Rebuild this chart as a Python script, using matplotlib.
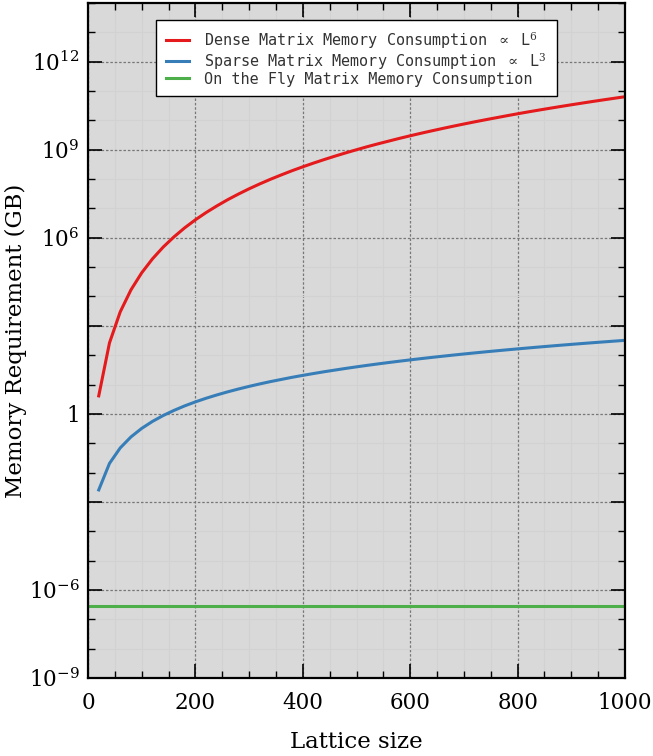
import numpy as np
import matplotlib
matplotlib.use("Agg")
import matplotlib.pyplot as plt
from matplotlib.ticker import LogLocator, MultipleLocator, FuncFormatter, NullFormatter

# lattice sizes and memory values (GB)
lattice = [20, 40, 60, 80, 100, 120, 140, 160, 180, 200,
           220, 240, 260, 280, 300, 320, 340, 360, 380, 400,
           420, 440, 460, 480, 500, 520, 540, 560, 580, 600,
           620, 640, 660, 680, 700, 720, 740, 760, 780, 800,
           820, 840, 860, 880, 900, 920, 940, 960, 980, 1000]

dense_mem = [4.10, 262, 2986, 1.68e4, 6.40e4, 1.91e5, 4.82e5, 1.07e6, 2.18e6, 4.10e6,
             7.26e6, 1.22e7, 1.98e7, 3.08e7, 4.67e7, 6.87e7, 9.89e7, 1.39e8, 1.93e8, 2.62e8,
             3.51e8, 4.64e8, 6.06e8, 7.83e8, 1.00e9, 1.27e9, 1.59e9, 1.97e9, 2.44e9, 2.99e9,
             3.64e9, 4.40e9, 5.29e9, 6.33e9, 7.53e9, 8.92e9, 1.05e10, 1.23e10, 1.44e10, 1.68e10,
             1.95e10, 2.25e10, 2.59e10, 2.97e10, 3.40e10, 3.88e10, 4.42e10, 5.01e10, 5.67e10, 6.40e10]

sparse_mem = [2.56e-3, 0.0205, 0.0691, 0.164, 0.32, 0.553, 0.878, 1.31, 1.87, 2.56,
              3.41, 4.42, 5.62, 7.02, 8.64, 10.5, 12.6, 14.9, 17.6, 20.5,
              23.7, 27.3, 31.1, 35.4, 40.0, 45.0, 50.4, 56.2, 62.4, 69.1,
              76.3, 83.9, 92.0, 100.6, 109.8, 119.4, 129.7, 140.5, 151.9, 163.8,
              176.4, 189.7, 203.5, 218.1, 233.3, 249.2, 265.8, 283.1, 301.2, 320]

fly_lattice = [0, 1000]
fly_mem = [2.8e-7, 2.8e-7]

labels = [r"Dense Matrix Memory Consumption $\propto$ L$^6$",
          r"Sparse Matrix Memory Consumption $\propto$ L$^3$",
          "On the Fly Matrix Memory Consumption"]

# decades that get a printed label on the y axis
shown_exp = [12, 9, 6, 0, -6, -9]


def log_fmt(v, pos):
    e = int(round(np.log10(v)))
    if e not in shown_exp:
        return ""
    if e == 0:
        return "1"
    return r"$\mathregular{10^{%d}}$" % e


plt.rcParams["font.family"] = "DejaVu Serif"
plt.rcParams["mathtext.fontset"] = "dejavuserif"

fig = plt.figure(figsize=(6.53, 7.56), dpi=100)
ax = fig.add_axes([88 / 653, 1 - 678 / 756, 537 / 653, 675 / 756])
ax.set_facecolor("#d9d9d9")

ax.plot(lattice, dense_mem, color="#e41a1c", lw=2.2, label=labels[0])
ax.plot(lattice, sparse_mem, color="#377eb8", lw=2.2, label=labels[1])
ax.plot(fly_lattice, fly_mem, color="#4daf4a", lw=2.2, label=labels[2])

ax.set_yscale("log")
ax.set_xlim(0, 1000)
ax.set_ylim(1e-9, 1e14)

ax.xaxis.set_major_locator(MultipleLocator(200))
ax.xaxis.set_minor_locator(MultipleLocator(50))
ax.yaxis.set_major_locator(LogLocator(base=1000, numticks=20))
ax.yaxis.set_minor_locator(LogLocator(base=10, subs=(1.0,), numticks=40))
ax.yaxis.set_major_formatter(FuncFormatter(log_fmt))
ax.yaxis.set_minor_formatter(NullFormatter())

ax.tick_params(which="both", direction="in", top=True, right=True)
ax.tick_params(which="major", length=10, width=1.2, labelsize=15.5)
ax.tick_params(which="minor", length=5, width=1.0)
ax.tick_params(axis="x", which="major", pad=10)
ax.tick_params(axis="y", which="major", pad=6)
for s in ax.spines.values():
    s.set_linewidth(1.6)

ax.grid(which="major", color="#777777", ls=(0, (2, 1.5)), lw=0.9)
ax.grid(which="minor", color="#d2d2d2", ls="-", lw=0.8)
ax.set_axisbelow(True)

ax.set_xlabel("Lattice size", fontsize=16.5, labelpad=12)
ax.set_ylabel("Memory Requirement (GB)", fontsize=16.5)
ax.yaxis.set_label_coords(-0.114, 0.5)

leg = ax.legend(loc="upper center", bbox_to_anchor=(0.5, 0.975), borderaxespad=0,
                prop={"family": "DejaVu Sans Mono", "size": 10.9},
                fancybox=False, framealpha=1, edgecolor="black",
                handlelength=1.5, handletextpad=1.0, borderpad=0.65,
                labelspacing=0.0)
leg.get_frame().set_linewidth(1.0)
for t in leg.get_texts():
    t.set_color("#333333")

fig.savefig("out.png", dpi=100)
